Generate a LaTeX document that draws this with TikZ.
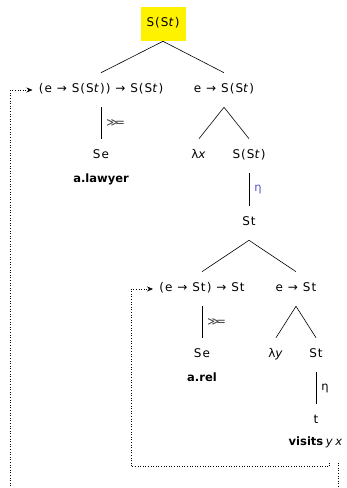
\documentclass[tikz,border=0pt]{standalone}
\usepackage{fontspec}
\setmainfont{DejaVu Sans}
\newfontfamily\tyfont[LetterSpace=9]{DejaVu Sans}
\usetikzlibrary{arrows.meta, positioning, calc}
\definecolor{hiyellow}{RGB}{255,242,0}
\definecolor{etablue}{RGB}{85,85,200}

\begin{document}
\begin{tikzpicture}[x=1pt, y=1pt, line width=0.6pt,
    ty/.style={inner xsep=6pt, inner ysep=0pt, minimum height=34pt, text height=8.5pt, text depth=2.5pt, font=\tyfont\fontsize{12}{14}\selectfont},
    tm/.style={inner sep=0pt, text height=8pt, text depth=2.5pt, font=\bfseries\fontsize{11.5}{13}\selectfont},
    rl/.style={right=5pt, midway, inner sep=0pt, font=\fontsize{11.5}{13}\selectfont},
    back/.style={dotted, -{Stealth[length=6pt, width=5pt]}}]
\useasboundingbox (0,0) rectangle (346,488);
\clip (0,0) rectangle (346,488);
% upper tree
\node[ty, fill=hiyellow, minimum width=45pt] (root) at (163,464) {S(S\textit{t})};
\node[ty] (lft) at (101,398) {(e → S(S\textit{t})) → S(S\textit{t})};
\node[ty] (rgt) at (224,398) {e → S(S\textit{t})};
\node[ty] (lawSe) at (101,332) {Se};
\node[tm, below=1pt of lawSe] (law) {a.lawyer};
\node[ty] (lamx) at (199,332) {λ\textit{x}};
\node[ty] (sst) at (249,332) {S(S\textit{t})};
\node[ty] (st) at (249,265) {St};
% lower tree
\node[ty] (lft2) at (202,199) {(e → St) → St};
\node[ty] (rgt2) at (296,199) {e → St};
\node[ty] (relSe) at (202,133) {Se};
\node[tm, below=1pt of relSe] (rel) {a.rel};
\node[ty] (lamy) at (276,133) {λ\textit{y}};
\node[ty] (st2) at (316,133) {St};
\node[ty] (tt) at (316,67) {t};
\node[tm] (vis) at (306,45) {visits};
\node[tm, right=2pt of vis, font=\itshape\fontsize{11.5}{13}\selectfont] (vy) {y};
\node[tm, right=2pt of vy, font=\itshape\fontsize{11.5}{13}\selectfont] (vx) {x};

\draw (root.south) -- (lft.north);
\draw (root.south) -- (rgt.north);
\draw (lft.south) -- (lawSe.north) node[rl, black!75] {≫\kern-3pt=};
\draw (rgt.south) -- (lamx.north);
\draw (rgt.south) -- (sst.north);
\draw (sst.south) -- (st.north) node[rl, etablue] {η};
\draw (st.south) -- (lft2.north);
\draw (st.south) -- (rgt2.north);
\draw (lft2.south) -- (relSe.north) node[rl, black!75] {≫\kern-3pt=};
\draw (rgt2.south) -- (lamy.north);
\draw (rgt2.south) -- (st2.north);
\draw (st2.south) -- (tt.north) node[rl] {η};

% binding loops
\draw[back] ([yshift=-14pt]vy.south) -- ++(0,-4) -| ([xshift=-22pt]lft2.west) -- (lft2.west);
\draw[back] ([yshift=-14pt]vx.south) -- ++(0,-40) -| ([xshift=-22pt]lft.west) -- (lft.west);
\end{tikzpicture}
\end{document}
